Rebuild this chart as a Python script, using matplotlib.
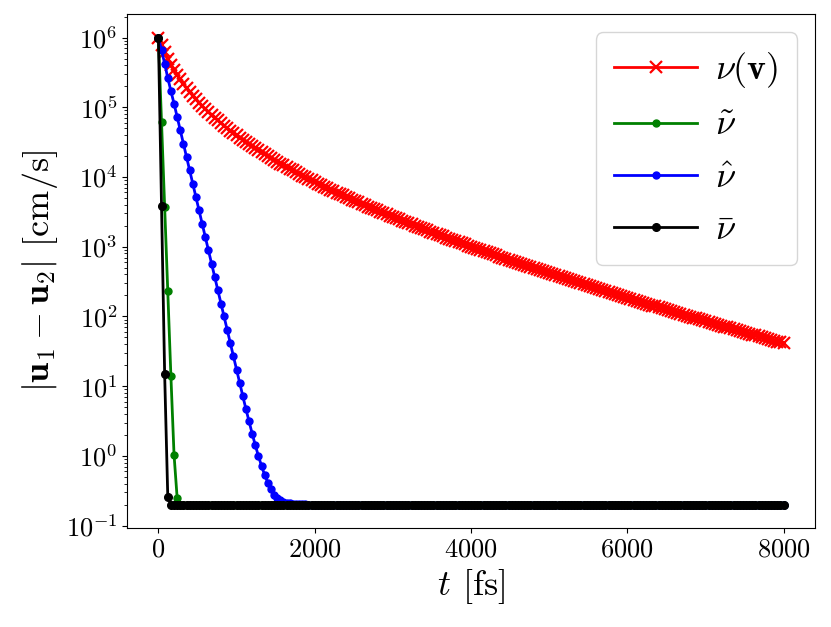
import numpy as np
import matplotlib
matplotlib.use('Agg')
import matplotlib.pyplot as plt

plt.rcParams['font.family'] = 'serif'
plt.rcParams['font.serif'] = ['cmr10']
plt.rcParams['mathtext.fontset'] = 'cm'
plt.rcParams['axes.formatter.use_mathtext'] = True

# time grid, one sample every 40 fs
t = np.arange(0, 8001, 40)

# nu(v):
red_vals = [
    1.00e6, 7.72e5, 6.12e5, 4.97e5, 4.10e5, 3.44e5, 2.92e5, 2.51e5, 2.17e5, 1.89e5,
    1.67e5, 1.47e5, 1.31e5, 1.17e5, 1.05e5, 9.48e4, 8.58e4, 7.79e4, 7.09e4, 6.48e4,
    5.93e4, 5.45e4, 5.01e4, 4.62e4, 4.27e4, 3.96e4, 3.67e4, 3.41e4, 3.17e4, 2.95e4,
    2.76e4, 2.57e4, 2.41e4, 2.26e4, 2.12e4, 1.98e4, 1.87e4, 1.75e4, 1.65e4, 1.56e4,
    1.47e4, 1.38e4, 1.31e4, 1.24e4, 1.17e4, 1.11e4, 1.05e4, 9.93e3, 9.41e3, 8.93e3,
    8.48e3, 8.06e3, 7.66e3, 7.28e3, 6.93e3, 6.60e3, 6.28e3, 5.99e3, 5.71e3, 5.44e3,
    5.19e3, 4.95e3, 4.73e3, 4.52e3, 4.32e3, 4.12e3, 3.94e3, 3.77e3, 3.61e3, 3.45e3,
    3.31e3, 3.17e3, 3.03e3, 2.91e3, 2.79e3, 2.67e3, 2.56e3, 2.46e3, 2.36e3, 2.26e3,
    2.17e3, 2.09e3, 2.00e3, 1.92e3, 1.85e3, 1.78e3, 1.71e3, 1.64e3, 1.58e3, 1.52e3,
    1.46e3, 1.41e3, 1.35e3, 1.30e3, 1.25e3, 1.21e3, 1.16e3, 1.12e3, 1.08e3, 1.04e3,
    1000, 966, 931, 897, 865, 835, 805, 777, 749, 723,
    698, 674, 650, 628, 606, 585, 565, 546, 528, 510,
    493, 476, 460, 445, 430, 416, 402, 389, 376, 364,
    352, 340, 329, 318, 308, 298, 289, 279, 270, 262,
    253, 245, 238, 230, 223, 216, 209, 203, 196, 190,
    184, 179, 173, 168, 162, 157, 153, 148, 143, 139,
    135, 131, 127, 123, 119, 116, 112, 109, 106, 102,
    99.4, 96.4, 93.6, 90.8, 88.1, 85.5, 83.0, 80.5, 78.2, 75.9,
    73.6, 71.5, 69.4, 67.4, 65.4, 63.5, 61.7, 59.9, 58.2, 56.5,
    54.9, 53.3, 51.8, 50.3, 48.8, 47.4, 46.1, 44.8, 43.5, 42.3,
    41.1,
]

floor = 0.2

# nu tilde (green)
green_head = [1.0e6, 6.2e4, 3.7e3, 230, 13.8, 1.04, 0.248]
# nu hat (blue)
blue_head = [
    1.0e6, 6.6e5, 4.24e5, 2.63e5, 1.71e5, 1.13e5, 7.26e4, 4.68e4, 3.01e4, 1.94e4,
    1.25e4, 8.04e3, 5.16e3, 3.33e3, 2.14e3, 1.38e3, 887, 571, 367, 237,
    153, 100, 64.6, 41.5, 26.7, 17.3, 11.2, 7.21, 4.69, 3.13,
    2.08, 1.42, 0.993, 0.714, 0.531, 0.412, 0.330, 0.271, 0.246, 0.230,
    0.219, 0.2125, 0.208, 0.205, 0.203, 0.202, 0.2013, 0.2008, 0.2005,
]
# nu bar (black)
black_head = [1.0e6, 3.8e3, 14.8, 0.257]

green_vals = green_head + [floor] * (len(t) - len(green_head))
blue_vals = blue_head + [floor] * (len(t) - len(blue_head))
black_vals = black_head + [floor] * (len(t) - len(black_head))

fig = plt.figure(figsize=(8.31, 6.27), dpi=100)
ax = fig.add_axes([0.153, 0.158, 0.8276, 0.8193])

ax.semilogy(t, red_vals, color='r', marker='x', ms=9, mew=1.6, lw=2, label=r'$\nu(\mathbf{v})$')
ax.semilogy(t, green_vals, color='g', marker='.', ms=10, lw=2, label=r'$\tilde{\nu}$')
ax.semilogy(t, blue_vals, color='b', marker='.', ms=10, lw=2, label=r'$\hat{\nu}$')
ax.semilogy(t, black_vals, color='k', marker='.', ms=11, lw=2, label=r'$\bar{\nu}$')

ax.set_xticks([0, 2000, 4000, 6000, 8000])
ax.tick_params(axis='both', which='major', labelsize=19)
ax.set_xlabel(r'$t$ [fs]', fontsize=26)
ax.set_ylabel(r'$|\mathbf{u}_1-\mathbf{u}_2|$ [cm/s]', fontsize=26)

ax.legend(loc='upper right', fontsize=26, handlelength=2.3, handletextpad=0.5,
          labelspacing=0.55, borderpad=0.5)

fig.savefig('out.png', dpi=100)
